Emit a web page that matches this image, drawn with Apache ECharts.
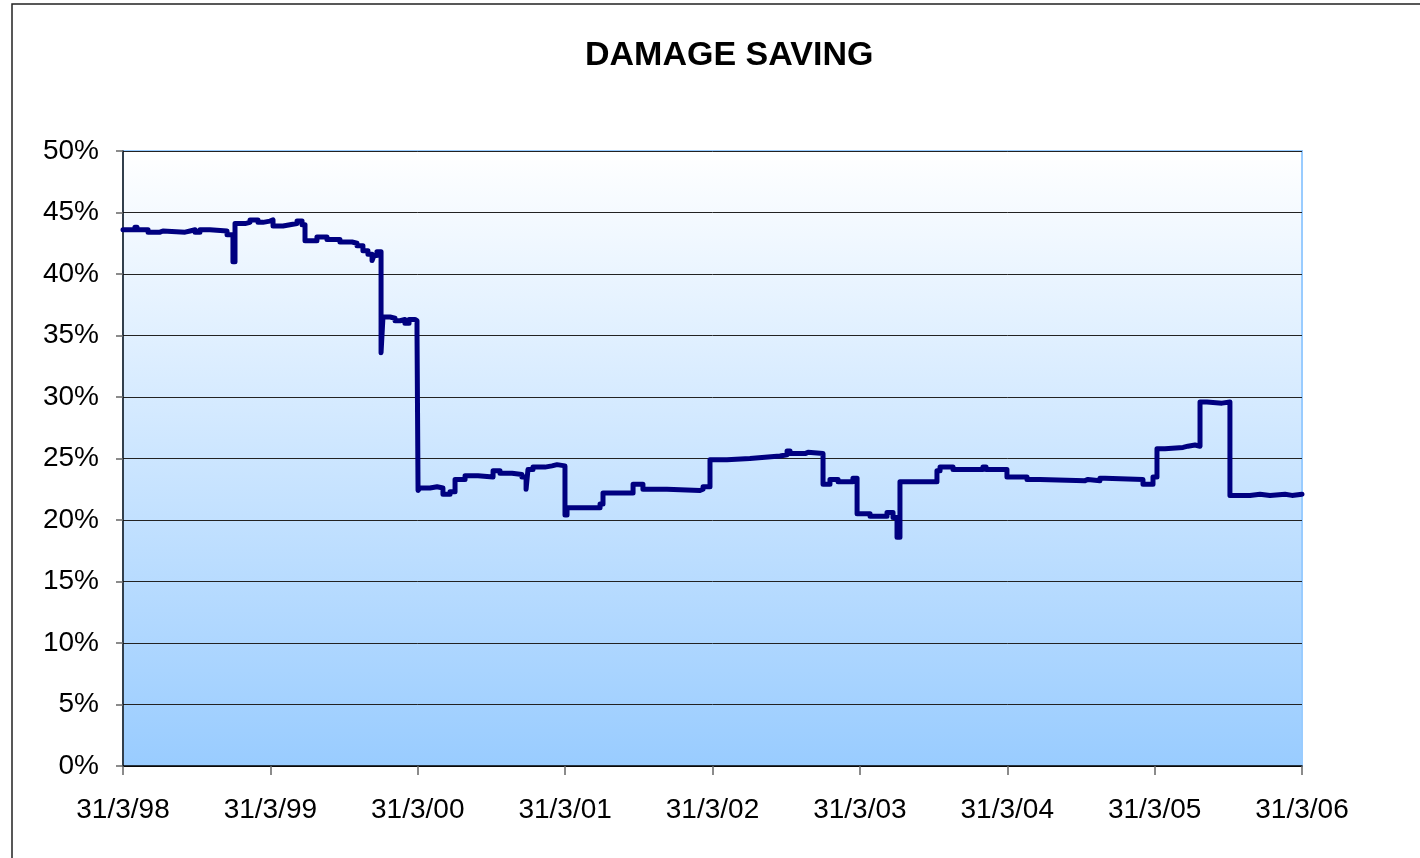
<!DOCTYPE html>
<html>
<head>
<meta charset="utf-8">
<title>Damage saving</title>
<script src="https://cdn.jsdelivr.net/npm/echarts@6/dist/echarts.min.js"></script>
<style>
  html, body { margin: 0; padding: 0; background: #fff; }
  #chart { width: 1420px; height: 858px; }
</style>
</head>
<body>
<div id="chart"></div>
<script>
// x = years since 31/3/98, y = damage saving in %
let yearsSince98 = [
  0, 0.081, 0.095, 0.170, 0.251, 0.271, 0.421, 0.455, 0.489, 0.522,
  0.590, 0.706, 0.746, 0.760, 0.828, 0.862, 0.916, 0.950, 0.997, 1.018,
  1.086, 1.133, 1.181, 1.215, 1.235, 1.316, 1.384, 1.472, 1.554, 1.588,
  1.628, 1.662, 1.690, 1.703, 1.723, 1.751, 1.764, 1.812, 1.846, 1.880,
  1.913, 1.941, 1.981, 1.995, 2.002, 2.015, 2.083, 2.131, 2.171, 2.219,
  2.253, 2.321, 2.409, 2.511, 2.558, 2.640, 2.707, 2.735, 2.748, 2.782,
  2.863, 2.911, 2.945, 2.999, 3.013, 3.237, 3.257, 3.461, 3.528, 3.691,
  3.915, 3.936, 3.983, 4.098, 4.254, 4.356, 4.458, 4.506, 4.526, 4.628,
  4.648, 4.750, 4.797, 4.852, 4.953, 4.981, 5.069, 5.184, 5.225, 5.252,
  5.272, 5.523, 5.544, 5.632, 5.835, 5.856, 5.998, 6.134, 6.222, 6.528,
  6.548, 6.629, 6.663, 6.921, 6.989, 7.016, 7.070, 7.193, 7.226, 7.274,
  7.308, 7.355, 7.457, 7.511, 7.647, 7.715, 7.783, 7.885, 7.932, 8.000
];
let savingPct = [
  43.6, 43.8, 43.6, 43.4, 43.5, 43.4, 43.5, 43.6, 43.4, 43.6,
  43.5, 43.2, 41.0, 44.1, 44.2, 44.4, 44.2, 44.3, 44.4, 43.9,
  44.0, 44.1, 44.3, 44.0, 42.7, 43.0, 42.8, 42.6, 42.5, 42.3,
  41.9, 41.6, 41.1, 41.5, 41.8, 33.6, 36.5, 36.4, 36.2, 36.3,
  36.0, 36.3, 36.2, 35.2, 22.4, 22.6, 22.7, 22.6, 22.1, 22.3,
  23.3, 23.6, 23.5, 24.0, 23.8, 23.7, 23.5, 22.5, 24.1, 24.3,
  24.4, 24.5, 24.4, 20.4, 21.0, 21.3, 22.2, 22.9, 22.5, 22.4,
  22.5, 22.7, 24.9, 25.0, 25.1, 25.2, 25.3, 25.6, 25.4, 25.5,
  25.4, 22.9, 23.3, 23.1, 23.4, 20.5, 20.3, 20.6, 20.2, 18.6,
  23.1, 24.0, 24.3, 24.1, 24.3, 24.1, 23.5, 23.3, 23.2, 23.3,
  23.2, 23.4, 23.3, 22.9, 23.5, 25.8, 25.9, 26.0, 26.1, 26.0,
  29.6, 29.5, 29.6, 22.0, 22.1, 22.0, 22.1, 22.0, 22.1, 22.1
];
let tickLabels = ['31/3/98', '31/3/99', '31/3/00', '31/3/01', '31/3/02',
                  '31/3/03', '31/3/04', '31/3/05', '31/3/06'];

let seriesData = yearsSince98.map(function (x, i) { return [x, savingPct[i]]; });

let chart = echarts.init(document.getElementById('chart'));

let option = {
  animation: false,
  backgroundColor: '#fff',
  textStyle: { fontFamily: 'Liberation Sans, Arial, sans-serif' },
  title: {
    text: 'DAMAGE SAVING',
    left: 580,
    top: 34,
    textStyle: { fontSize: 34, fontWeight: 'bold', color: '#000' }
  },
  graphic: [{
    type: 'rect',
    shape: { x: 12, y: 4, width: 1440, height: 900 },
    style: { fill: 'none', stroke: '#222', lineWidth: 1.5 },
    silent: true
  }],
  grid: {
    left: 123, right: 118, top: 151, bottom: 92,
    show: true,
    borderColor: '#99ccff',
    borderWidth: 2,
    backgroundColor: new echarts.graphic.LinearGradient(0, 0, 0, 1, [
      { offset: 0, color: '#ffffff' },
      { offset: 1, color: '#99ccff' }
    ])
  },
  xAxis: {
    type: 'value',
    min: 0, max: 8, interval: 1,
    axisLine: { lineStyle: { color: '#000', width: 1.5 } },
    axisTick: { length: 9, lineStyle: { color: '#666', width: 1.5 } },
    axisLabel: {
      margin: 30, fontSize: 28, color: '#000',
      formatter: function (v) { return tickLabels[Math.round(v)]; }
    },
    splitLine: { show: false }
  },
  yAxis: {
    type: 'value',
    min: 0, max: 50, interval: 5,
    axisLine: { show: true, lineStyle: { color: '#111', width: 1.5 } },
    axisTick: { show: true, length: 7, lineStyle: { color: '#666', width: 1.5 } },
    axisLabel: { margin: 24, fontSize: 28, color: '#000', formatter: '{value}%' },
    splitLine: { lineStyle: { color: '#222', width: 1 } }
  },
  series: [{
    type: 'line',
    step: 'end',
    data: seriesData,
    showSymbol: false,
    lineStyle: { color: '#000080', width: 5, cap: 'round', join: 'round' }
  }]
};

chart.setOption(option);
</script>
</body>
</html>
